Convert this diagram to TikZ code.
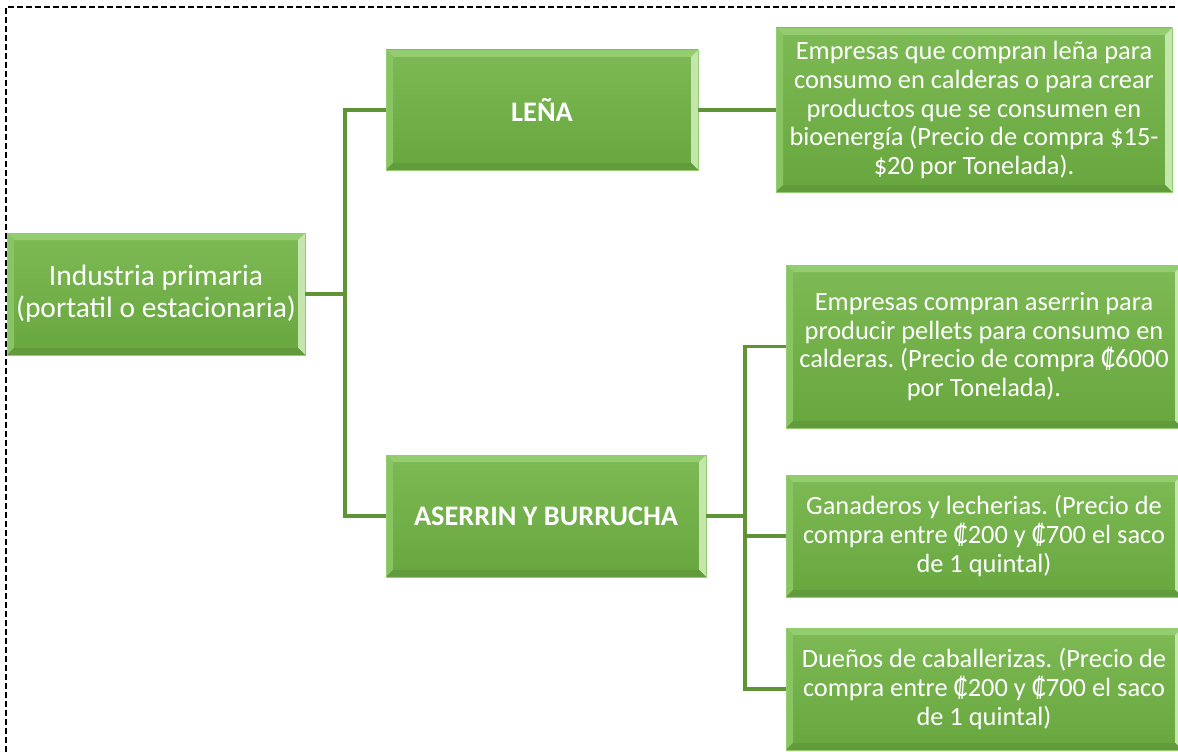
\documentclass[tikz,border=0pt]{standalone}
\usepackage{fontspec}
\setmainfont{Carlito}
\frenchspacing
\usetikzlibrary{calc}
\definecolor{gtop}{HTML}{7DBA55}
\definecolor{gbot}{HTML}{68A63E}
\definecolor{bevT}{HTML}{94CC70}
\definecolor{bevL}{HTML}{88C463}
\definecolor{bevR}{HTML}{C4E6AC}
\definecolor{bevB}{HTML}{629B3C}
\definecolor{conn}{HTML}{5E9436}
\tikzset{
  gbox/.style={rectangle, inner sep=0pt, align=center, text=white,
    top color=gtop, bottom color=gbot, draw=bevT, line width=0.6pt,
    path picture={
      \coordinate (pnw) at (path picture bounding box.north west);
      \coordinate (pne) at (path picture bounding box.north east);
      \coordinate (psw) at (path picture bounding box.south west);
      \coordinate (pse) at (path picture bounding box.south east);
      \fill[bevT] (pnw) -- (pne) -- ($(pne)+(-7,7)$) -- ($(pnw)+(7,7)$) -- cycle;
      \fill[bevL] (pnw) -- ($(pnw)+(7,7)$) -- ($(psw)+(7,-7)$) -- (psw) -- cycle;
      \fill[bevR] (pne) -- ($(pne)+(-7,7)$) -- ($(pse)+(-7,-7)$) -- (pse) -- cycle;
      \fill[bevB] (psw) -- ($(psw)+(7,-7)$) -- ($(pse)+(-7,-7)$) -- (pse) -- cycle;
    }},
  smalltxt/.style={font=\fontsize{26.4}{28.8}\selectfont},
  bigtxt/.style={font=\fontsize{29.5}{32}\selectfont},
  boldtxt/.style={font=\fontsize{28.3}{32}\selectfont\bfseries},
  link/.style={draw=conn, line width=3.2pt},
  frame/.style={draw=black, line width=1.7pt, dash pattern=on 6pt off 3pt}
}
\begin{document}
\begin{tikzpicture}[x=1pt,y=-1pt]
\useasboundingbox (0,0) rectangle (1178,752);
\begin{scope}
\clip (0,0) rectangle (1178,752);
\draw[frame] (6,752) -- (6,7) -- (1178,7);

\node[gbox, bigtxt, minimum width=298pt, minimum height=122pt] (ind) at (156,294)
  {Industria primaria\\(portatil o estacionaria)};
\node[gbox, boldtxt, minimum width=312pt, minimum height=120pt] (lena) at (542,110) {LEÑA};
\node[gbox, boldtxt, minimum width=320pt, minimum height=122pt] (aser) at (546,516) {ASERRIN Y BURRUCHA};
\node[gbox, smalltxt, minimum width=396pt, minimum height=164pt] (r1) at (974,110)
  {Empresas que compran leña para\\consumo en calderas o para crear\\productos que se consumen en\\bioenergía (Precio de compra \$15-\\\$20 por Tonelada).};
\node[gbox, smalltxt, minimum width=396pt, minimum height=163pt] (r2) at (984,346.5)
  {Empresas compran aserrin para\\producir pellets para consumo en\\calderas. (Precio de compra ₡6000\\por Tonelada).};
\node[gbox, smalltxt, minimum width=396pt, minimum height=122pt] (r3) at (984,536)
  {Ganaderos y lecherias. (Precio de\\compra entre ₡200 y ₡700 el saco\\de 1 quintal)};
\node[gbox, smalltxt, minimum width=396pt, minimum height=122pt] (r4) at (984,689)
  {Dueños de caballerizas. (Precio de\\compra entre ₡200 y ₡700 el saco\\de 1 quintal)};

\coordinate (j1) at (345,294);
\coordinate (j2) at (745,516);
\draw[link] (ind.east) -- (j1);
\draw[link] (lena.west) -| (j1) |- (aser.west);
\draw[link] (lena.east) -- (r1.west);
\draw[link] (aser.east) -- (j2);
\draw[link] (r2.west) -| (j2) |- (r4.west);
\draw[link] (j2 |- r3.west) -- (r3.west);
\end{scope}
\end{tikzpicture}
\end{document}
